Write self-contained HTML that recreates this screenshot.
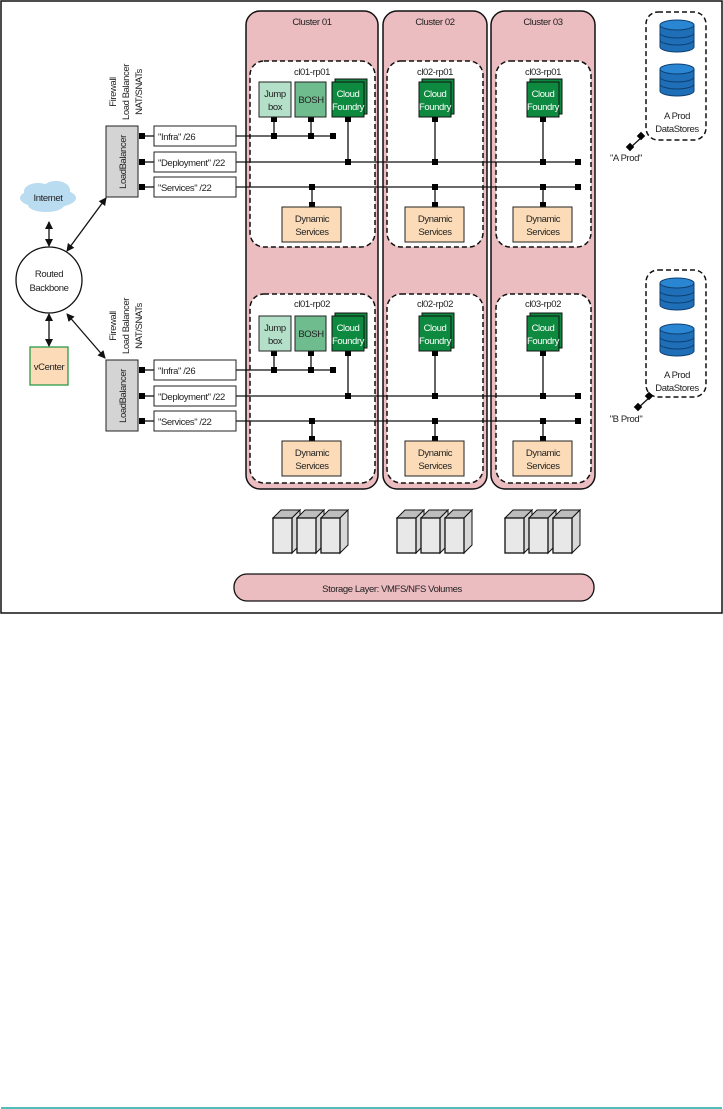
<!DOCTYPE html>
<html><head><meta charset="utf-8"><style>
html,body{margin:0;padding:0;background:#fff;}
svg{display:block;}
text{font-family:"Liberation Sans Narrow","Liberation Sans",sans-serif;font-size:9.5px;letter-spacing:-0.4px;fill:#222;text-anchor:middle;}
.w{fill:#fff;}
.cl{fill:#ebbcc0;stroke:#111;stroke-width:1.5;}
.rp{fill:#fff;stroke:#111;stroke-width:1.5;stroke-dasharray:5,3;}
.ln{stroke:#111;stroke-width:1.3;fill:none;}
.jb{fill:#b4e0c9;stroke:#222;stroke-width:1;}
.bo{fill:#6fbd8f;stroke:#222;stroke-width:1;}
.cf{fill:#0d8a3f;stroke:#111;stroke-width:1;}
.ds{fill:#fcdcb8;stroke:#222;stroke-width:1;}
.lb{fill:#d4d4d4;stroke:#222;stroke-width:1;}
.lab{fill:#fff;stroke:#222;stroke-width:1;}
</style></head><body>
<svg width="723" height="1109" viewBox="0 0 723 1109" xmlns="http://www.w3.org/2000/svg">
<defs>
<marker id="ar" markerWidth="8" markerHeight="8" refX="7" refY="4" orient="auto-start-reverse" markerUnits="userSpaceOnUse"><path d="M0,0 L8,4 L0,8 z" fill="#111"/></marker>
<g id="srv">
 <path d="M0,8 L8,0 L27,0 L19,8 z" fill="#bdbdbd" stroke="#111" stroke-width="1"/>
 <path d="M19,8 L27,0 L27,35 L19,43 z" fill="#d8d8d8" stroke="#111" stroke-width="1"/>
 <rect x="0" y="8" width="19" height="35" fill="#e8e8e8" stroke="#111" stroke-width="1.3"/>
</g>
<g id="cyl">
 <path d="M-17,5 L-17,27 A17,5 0 0 0 17,27 L17,5" fill="#1f6fb8" stroke="#0d3f70" stroke-width="1"/>
 <ellipse cx="0" cy="5" rx="17" ry="5" fill="#2a86d2" stroke="#0d3f70" stroke-width="1"/>
 <path d="M-17,13 A17,5 0 0 0 17,13 M-17,20 A17,5 0 0 0 17,20" fill="none" stroke="#0d3f70" stroke-width="1"/>
</g>
</defs>

<rect x="1" y="1" width="721" height="612" fill="none" stroke="#111" stroke-width="1.5"/>
<line x1="1" y1="1108" x2="722" y2="1108" stroke="#1aa9a0" stroke-width="1.5"/>

<rect class="cl" x="246" y="11" width="132" height="478" rx="14"/>
<rect class="cl" x="383" y="11" width="104" height="478" rx="14"/>
<rect class="cl" x="491" y="11" width="104" height="478" rx="14"/>
<text x="312" y="25">Cluster 01</text>
<text x="435" y="25">Cluster 02</text>
<text x="543" y="25">Cluster 03</text>

<rect class="rp" x="250" y="61" width="125" height="186" rx="14"/>
<rect class="rp" x="387" y="61" width="96" height="186" rx="14"/>
<rect class="rp" x="496" y="61" width="95" height="186" rx="14"/>
<rect class="rp" x="250" y="294" width="125" height="189" rx="14"/>
<rect class="rp" x="387" y="294" width="96" height="189" rx="14"/>
<rect class="rp" x="496" y="294" width="95" height="189" rx="14"/>
<text x="312" y="75">cl01-rp01</text>
<text x="435" y="75">cl02-rp01</text>
<text x="543" y="75">cl03-rp01</text>
<text x="312" y="307">cl01-rp02</text>
<text x="435" y="307">cl02-rp02</text>
<text x="543" y="307">cl03-rp02</text>

<g>
<line class="ln" x1="236" y1="136" x2="333" y2="136"/>
<line class="ln" x1="236" y1="162" x2="578" y2="162"/>
<line class="ln" x1="236" y1="187" x2="578" y2="187"/>
<rect x="330" y="133" width="6" height="6"/><rect x="575" y="159" width="6" height="6"/><rect x="575" y="184" width="6" height="6"/>
<line class="ln" x1="274" y1="117" x2="274" y2="136"/><rect x="271" y="117" width="6" height="5"/><rect x="271" y="133" width="6" height="6"/>
<line class="ln" x1="311" y1="117" x2="311" y2="136"/><rect x="308" y="117" width="6" height="5"/><rect x="308" y="133" width="6" height="6"/>
<rect class="jb" x="259" y="82" width="32" height="35"/><text x="275" y="97">Jump</text><text x="275" y="110">box</text>
<rect class="bo" x="295" y="82" width="31" height="35"/><text x="311" y="103">BOSH</text>
</g>
<g>
<line class="ln" x1="348" y1="117" x2="348" y2="162"/><rect x="345" y="117" width="6" height="5"/><rect x="345" y="159" width="6" height="6"/>
<rect class="cf" x="335" y="79" width="32" height="35"/><rect class="cf" x="332" y="82" width="32" height="35"/>
<text class="w" x="348" y="97">Cloud</text><text class="w" x="348" y="110">Foundry</text>
<line class="ln" x1="312" y1="187" x2="312" y2="207"/><rect x="309" y="184" width="6" height="6"/><rect x="309" y="202" width="6" height="5"/>
<rect class="ds" x="282" y="207" width="59" height="35"/><text x="312" y="222">Dynamic</text><text x="312" y="235">Services</text>
</g>
<g transform="translate(87,0)">
<line class="ln" x1="348" y1="117" x2="348" y2="162"/><rect x="345" y="117" width="6" height="5"/><rect x="345" y="159" width="6" height="6"/>
<rect class="cf" x="335" y="79" width="32" height="35"/><rect class="cf" x="332" y="82" width="32" height="35"/>
<text class="w" x="348" y="97">Cloud</text><text class="w" x="348" y="110">Foundry</text>
</g>
<g transform="translate(123,0)">
<line class="ln" x1="312" y1="187" x2="312" y2="207"/><rect x="309" y="184" width="6" height="6"/><rect x="309" y="202" width="6" height="5"/>
<rect class="ds" x="282" y="207" width="59" height="35"/><text x="312" y="222">Dynamic</text><text x="312" y="235">Services</text>
</g>
<g transform="translate(195,0)">
<line class="ln" x1="348" y1="117" x2="348" y2="162"/><rect x="345" y="117" width="6" height="5"/><rect x="345" y="159" width="6" height="6"/>
<rect class="cf" x="335" y="79" width="32" height="35"/><rect class="cf" x="332" y="82" width="32" height="35"/>
<text class="w" x="348" y="97">Cloud</text><text class="w" x="348" y="110">Foundry</text>
</g>
<g transform="translate(231,0)">
<line class="ln" x1="312" y1="187" x2="312" y2="207"/><rect x="309" y="184" width="6" height="6"/><rect x="309" y="202" width="6" height="5"/>
<rect class="ds" x="282" y="207" width="59" height="35"/><text x="312" y="222">Dynamic</text><text x="312" y="235">Services</text>
</g>

<g transform="translate(0,234)">
<line class="ln" x1="236" y1="136" x2="333" y2="136"/>
<line class="ln" x1="236" y1="162" x2="578" y2="162"/>
<line class="ln" x1="236" y1="187" x2="578" y2="187"/>
<rect x="330" y="133" width="6" height="6"/><rect x="575" y="159" width="6" height="6"/><rect x="575" y="184" width="6" height="6"/>
<line class="ln" x1="274" y1="117" x2="274" y2="136"/><rect x="271" y="117" width="6" height="5"/><rect x="271" y="133" width="6" height="6"/>
<line class="ln" x1="311" y1="117" x2="311" y2="136"/><rect x="308" y="117" width="6" height="5"/><rect x="308" y="133" width="6" height="6"/>
<rect class="jb" x="259" y="82" width="32" height="35"/><text x="275" y="97">Jump</text><text x="275" y="110">box</text>
<rect class="bo" x="295" y="82" width="31" height="35"/><text x="311" y="103">BOSH</text>
<line class="ln" x1="348" y1="117" x2="348" y2="162"/><rect x="345" y="117" width="6" height="5"/><rect x="345" y="159" width="6" height="6"/>
<rect class="cf" x="335" y="79" width="32" height="35"/><rect class="cf" x="332" y="82" width="32" height="35"/>
<text class="w" x="348" y="97">Cloud</text><text class="w" x="348" y="110">Foundry</text>
<line class="ln" x1="312" y1="187" x2="312" y2="207"/><rect x="309" y="184" width="6" height="6"/><rect x="309" y="202" width="6" height="5"/>
<rect class="ds" x="282" y="207" width="59" height="35"/><text x="312" y="222">Dynamic</text><text x="312" y="235">Services</text>
</g>
<g transform="translate(87,234)">
<line class="ln" x1="348" y1="117" x2="348" y2="162"/><rect x="345" y="117" width="6" height="5"/><rect x="345" y="159" width="6" height="6"/>
<rect class="cf" x="335" y="79" width="32" height="35"/><rect class="cf" x="332" y="82" width="32" height="35"/>
<text class="w" x="348" y="97">Cloud</text><text class="w" x="348" y="110">Foundry</text>
</g>
<g transform="translate(123,234)">
<line class="ln" x1="312" y1="187" x2="312" y2="207"/><rect x="309" y="184" width="6" height="6"/><rect x="309" y="202" width="6" height="5"/>
<rect class="ds" x="282" y="207" width="59" height="35"/><text x="312" y="222">Dynamic</text><text x="312" y="235">Services</text>
</g>
<g transform="translate(195,234)">
<line class="ln" x1="348" y1="117" x2="348" y2="162"/><rect x="345" y="117" width="6" height="5"/><rect x="345" y="159" width="6" height="6"/>
<rect class="cf" x="335" y="79" width="32" height="35"/><rect class="cf" x="332" y="82" width="32" height="35"/>
<text class="w" x="348" y="97">Cloud</text><text class="w" x="348" y="110">Foundry</text>
</g>
<g transform="translate(231,234)">
<line class="ln" x1="312" y1="187" x2="312" y2="207"/><rect x="309" y="184" width="6" height="6"/><rect x="309" y="202" width="6" height="5"/>
<rect class="ds" x="282" y="207" width="59" height="35"/><text x="312" y="222">Dynamic</text><text x="312" y="235">Services</text>
</g>

<g>
<rect class="lb" x="106" y="126" width="32" height="71"/>
<text transform="translate(126,162) rotate(-90)">LoadBalancer</text>
<text transform="translate(116,92) rotate(-90)">Firewall</text>
<text transform="translate(129,92) rotate(-90)">Load Balancer</text>
<text transform="translate(142,92) rotate(-90)">NAT/SNATs</text>
<rect x="139" y="133" width="6" height="6"/><rect x="139" y="159" width="6" height="6"/><rect x="139" y="184" width="6" height="6"/>
<line class="ln" x1="145" y1="136" x2="154" y2="136"/><line class="ln" x1="145" y1="162" x2="154" y2="162"/><line class="ln" x1="145" y1="187" x2="154" y2="187"/>
<rect class="lab" x="154" y="126" width="82" height="20"/><text x="158" y="140" style="text-anchor:start">"Infra" /26</text>
<rect class="lab" x="154" y="152" width="82" height="20"/><text x="158" y="166" style="text-anchor:start">"Deployment" /22</text>
<rect class="lab" x="154" y="177" width="82" height="20"/><text x="158" y="191" style="text-anchor:start">"Services" /22</text>
</g>
<g transform="translate(0,234)">
<rect class="lb" x="106" y="126" width="32" height="71"/>
<text transform="translate(126,162) rotate(-90)">LoadBalancer</text>
<text transform="translate(116,92) rotate(-90)">Firewall</text>
<text transform="translate(129,92) rotate(-90)">Load Balancer</text>
<text transform="translate(142,92) rotate(-90)">NAT/SNATs</text>
<rect x="139" y="133" width="6" height="6"/><rect x="139" y="159" width="6" height="6"/><rect x="139" y="184" width="6" height="6"/>
<line class="ln" x1="145" y1="136" x2="154" y2="136"/><line class="ln" x1="145" y1="162" x2="154" y2="162"/><line class="ln" x1="145" y1="187" x2="154" y2="187"/>
<rect class="lab" x="154" y="126" width="82" height="20"/><text x="158" y="140" style="text-anchor:start">"Infra" /26</text>
<rect class="lab" x="154" y="152" width="82" height="20"/><text x="158" y="166" style="text-anchor:start">"Deployment" /22</text>
<rect class="lab" x="154" y="177" width="82" height="20"/><text x="158" y="191" style="text-anchor:start">"Services" /22</text>
</g>

<g fill="#b9dcf0">
<ellipse cx="48" cy="198" rx="28" ry="10"/><ellipse cx="38" cy="191" rx="14" ry="8"/><ellipse cx="56" cy="190" rx="14" ry="9"/><ellipse cx="46" cy="205" rx="18" ry="7"/>
</g>
<text x="48" y="201">Internet</text>
<circle cx="49" cy="280" r="33" fill="#fff" stroke="#111" stroke-width="1.3"/>
<text x="49" y="277">Routed</text><text x="49" y="291">Backbone</text>
<rect x="30" y="347" width="38" height="38" fill="#fcdcb8" stroke="#2a9a4a" stroke-width="1.3"/>
<text x="49" y="370">vCenter</text>
<line class="ln" x1="49" y1="222" x2="49" y2="246" marker-start="url(#ar)" marker-end="url(#ar)"/>
<line class="ln" x1="49" y1="314" x2="49" y2="346" marker-start="url(#ar)" marker-end="url(#ar)"/>
<line class="ln" x1="67" y1="251" x2="106" y2="198" marker-start="url(#ar)" marker-end="url(#ar)"/>
<line class="ln" x1="67" y1="314" x2="105" y2="358" marker-start="url(#ar)" marker-end="url(#ar)"/>

<rect class="rp" x="646" y="12" width="60" height="128" rx="12"/>
<use href="#cyl" x="677" y="20"/><use href="#cyl" x="677" y="64"/>
<text x="677" y="119">A Prod</text><text x="677" y="132">DataStores</text>
<line class="ln" x1="642" y1="137" x2="630" y2="148"/>
<rect x="638" y="133" width="6" height="6" transform="rotate(45 641 136)"/>
<rect x="627" y="144" width="6" height="6" transform="rotate(45 630 147)"/>
<text x="626" y="161">"A Prod"</text>

<rect class="rp" x="646" y="270" width="60" height="127" rx="12"/>
<use href="#cyl" x="677" y="278"/><use href="#cyl" x="677" y="324"/>
<text x="677" y="378">A Prod</text><text x="677" y="391">DataStores</text>
<line class="ln" x1="650" y1="397" x2="638" y2="408"/>
<rect x="646" y="393" width="6" height="6" transform="rotate(45 649 396)"/>
<rect x="635" y="404" width="6" height="6" transform="rotate(45 638 407)"/>
<text x="626" y="422">"B Prod"</text>

<use href="#srv" x="273" y="510"/><use href="#srv" x="297" y="510"/><use href="#srv" x="321" y="510"/>
<use href="#srv" x="397" y="510"/><use href="#srv" x="421" y="510"/><use href="#srv" x="445" y="510"/>
<use href="#srv" x="505" y="510"/><use href="#srv" x="529" y="510"/><use href="#srv" x="553" y="510"/>

<rect x="234" y="574" width="360" height="27" rx="13" fill="#ebbcc0" stroke="#111" stroke-width="1.3"/>
<text x="392" y="592">Storage Layer: VMFS/NFS Volumes</text>
</svg>
</body></html>
